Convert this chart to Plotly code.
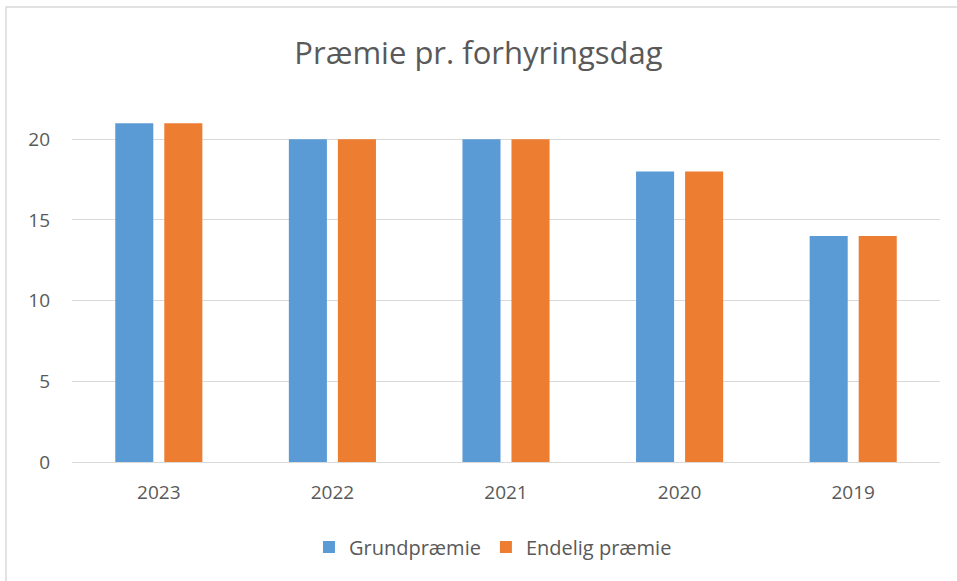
import plotly.graph_objects as go

categories = ["2023", "2022", "2021", "2020", "2019"]
grundpraemie = [21, 20, 20, 18, 14]
endelig_praemie = [21, 20, 20, 18, 14]
y_ticks = [0, 5, 10, 15, 20]

FONT = "'Open Sans', Lato, sans-serif"
GREY = "#595959"

fig = go.Figure()
fig.add_trace(go.Bar(x=categories, y=grundpraemie, name="Grundpræmie",
                     marker=dict(color="#5B9BD5", line=dict(width=0))))
fig.add_trace(go.Bar(x=categories, y=endelig_praemie, name="Endelig præmie",
                     marker=dict(color="#ED7D31", line=dict(width=0))))

fig.update_layout(
    width=957, height=581,
    margin=dict(l=72, r=17, t=107, b=119),
    paper_bgcolor="white", plot_bgcolor="white",
    barmode="group", bargap=0.435, bargroupgap=0.224,
    title=dict(text="Præmie pr. forhyringsdag", x=0.5, xanchor="center",
               y=1 - 53 / 581, yanchor="middle",
               font=dict(family=FONT, size=31, color=GREY)),
    font=dict(family=FONT, color=GREY, size=19),
    showlegend=True,
    legend=dict(orientation="h", x=0.485, xanchor="center",
                y=(462 - 547) / 355, yanchor="middle",
                font=dict(family=FONT, size=20, color=GREY),
                itemwidth=30, traceorder="normal"),
    xaxis=dict(showgrid=False, showline=True, linecolor="#D9D9D9", linewidth=1,
               ticks="", tickfont=dict(size=19, color=GREY),
               ticklabelstandoff=13),
    yaxis=dict(range=[0, 22], tickvals=y_ticks, showgrid=True,
               gridcolor="#D9D9D9", gridwidth=1, zeroline=False,
               showline=False, ticks="", tickfont=dict(size=19, color=GREY),
               ticklabelstandoff=21),
    shapes=[dict(type="rect", xref="paper", yref="paper",
                 x0=(6 - 72) / 868, x1=1.2, y0=-0.5, y1=(462 - 7) / 355,
                 line=dict(color="#D9D9D9", width=1.5), layer="below")],
)

fig.write_html("out.html",
               config={"displayModeBar": False},
               post_script="document.body.style.margin='0';document.body.style.overflow='hidden';")
